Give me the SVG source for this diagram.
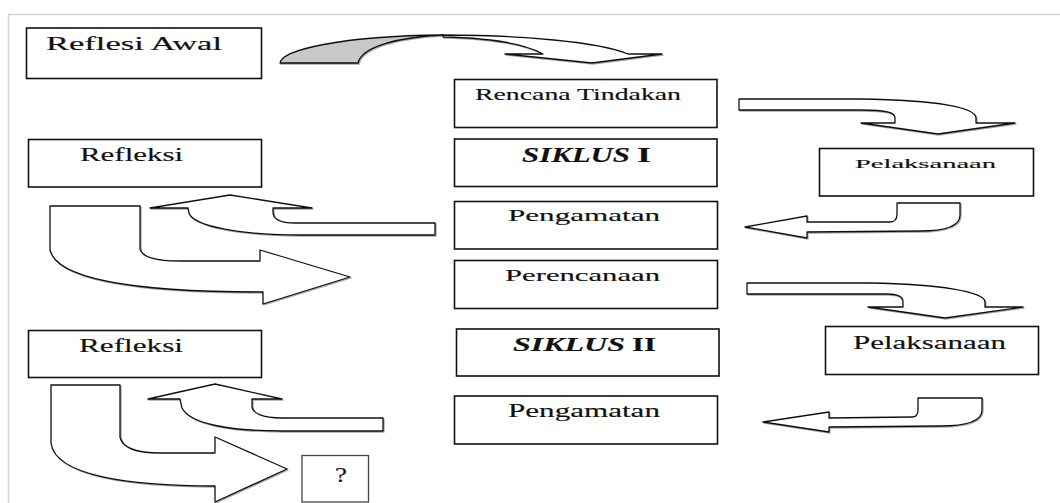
<svg xmlns="http://www.w3.org/2000/svg" width="1060" height="503" viewBox="0 0 1060 503">
  <style>
    .frame { stroke: #d4d4d4; stroke-width: 1.5; fill: none; }
    .box { fill: #ffffff; stroke: #111111; stroke-width: 1.6; }
    .qbox { fill: #ffffff; stroke: #444444; stroke-width: 1.3; }
    .arrow { fill: #ffffff; stroke: #111111; stroke-width: 1.3; stroke-linejoin: round; filter: url(#soft); }
    .shade { fill: #c8c8c8; stroke: #111111; stroke-width: 1.3; stroke-linejoin: round; filter: url(#soft); }
    .t { font-family: "Liberation Serif", "Times New Roman", serif; fill: #111111; stroke: #111111; stroke-width: 0.15; }
    .b { font-weight: bold; }
    .bi { font-weight: bold; font-style: italic; }
  </style>
  <defs>
    <filter id="soft" x="-5%" y="-5%" width="110%" height="120%">
      <feDropShadow dx="1" dy="1" stdDeviation="0.7" flood-color="#000000" flood-opacity="0.35"/>
    </filter>
  </defs>

  <rect x="0" y="0" width="1060" height="503" fill="#ffffff"/>
  <path class="frame" d="M8.5,503 L8.5,14.5 L1060,14.5"/>

  <g id="connectors">
    <!-- Reflesi Awal -> Rencana Tindakan -->
    <path class="shade" d="M280,63 C282,50 340,36 443,35 C400,37 362,46 358,63 Z"/>
    <path class="arrow" d="M443,35 C520,35 600,42 628,54 L662,54 L592,63 L505,54 L543,54 C525,44 490,38 443,37 Z"/>
    <!-- Rencana Tindakan -> Pelaksanaan I -->
    <path class="arrow" d="M739,99 L860,99 C940,100 976,108 976,118 L976,123 L1015,123 L938,134 L861,123 L895,123 L895,118 C895,113 889,110 860,110 L739,110 Z"/>
    <!-- Pelaksanaan I -> Pengamatan I -->
    <path class="arrow" d="M897,203 L960,203 L960,215 C960,226 945,231 920,231 L807,232 L807,238 L745,227 L807,216 L807,222 L890,222 C895,222 897,219 897,214 Z"/>
    <!-- Pengamatan I -> Refleksi I -->
    <path class="arrow" d="M435,223 L295,223 C281,223 273,219 273,212 L273,208 L312,208 L230,195 L150,208 L188,208 L189,213 C193,226 240,235 300,235 L435,235 Z"/>
    <!-- Refleksi I -> Perencanaan -->
    <path class="arrow" d="M50,206 L140,206 L140,249 C142,257 155,261 180,261 L260,261 L260,250 L350,277 L263,304 L263,292 C160,292 58,284 50,250 Z"/>
    <!-- Perencanaan -> Pelaksanaan II -->
    <path class="arrow" d="M747,283 L870,283 C940,284 985,292 985,302 L985,307 L1023,307 L945,318 L868,307 L903,307 L903,302 C903,297 897,294 887,294 L747,294 Z"/>
    <!-- Pelaksanaan II -> Pengamatan II -->
    <path class="arrow" d="M918,398 L982,398 L982,410 C982,421 966,426 940,426 L829,427 L829,432 L763,422 L829,412 L829,418 L912,417 C916,417 918,414 918,410 Z"/>
    <!-- Pengamatan II -> Refleksi II -->
    <path class="arrow" d="M383,418 L282,418 C262,418 252,413 252,406 L252,399 L282,399 L215,384 L148,399 L180,399 L182,408 C190,424 230,431 283,431 L383,431 Z"/>
    <!-- Refleksi II -> ? -->
    <path class="arrow" d="M51,385 L120,385 L120,437 C122,447 135,453 160,453 L215,453 L215,437 L287,469 L215,502 L215,486 C130,486 55,476 51,443 Z"/>
  </g>

  <g id="reflesi-awal">
    <rect class="box" x="26.5" y="28" width="235" height="50.5"/>
    <text class="t" x="46" y="50" font-size="19" textLength="176" lengthAdjust="spacingAndGlyphs">Reflesi Awal</text>
  </g>
  <g id="refleksi-1">
    <rect class="box" x="28.5" y="139.5" width="233" height="47.5"/>
    <text class="t" x="80" y="161" font-size="19.5" textLength="103" lengthAdjust="spacingAndGlyphs">Refleksi</text>
  </g>
  <g id="rencana-tindakan">
    <rect class="box" x="454.5" y="79.5" width="262.5" height="48"/>
    <text class="t" x="475" y="100" font-size="17.5" textLength="206" lengthAdjust="spacingAndGlyphs">Rencana  Tindakan</text>
  </g>
  <g id="siklus-1">
    <rect class="box" x="454.5" y="139" width="262.5" height="47.5"/>
    <text class="t bi" x="522" y="162" font-size="20" textLength="108" lengthAdjust="spacingAndGlyphs">SIKLUS</text>
    <text class="t b" x="637" y="162" font-size="20" textLength="14" lengthAdjust="spacingAndGlyphs">I</text>
  </g>
  <g id="pelaksanaan-1">
    <rect class="box" x="819.5" y="148.5" width="214" height="47.5"/>
    <text class="t" x="855" y="168" font-size="13.5" textLength="141" lengthAdjust="spacingAndGlyphs">Pelaksanaan</text>
  </g>
  <g id="pengamatan-1">
    <rect class="box" x="454.5" y="201.5" width="263" height="47.5"/>
    <text class="t" x="508" y="221" font-size="16.5" textLength="152" lengthAdjust="spacingAndGlyphs">Pengamatan</text>
  </g>
  <g id="perencanaan">
    <rect class="box" x="454.5" y="260.5" width="263" height="48"/>
    <text class="t" x="505" y="281" font-size="16.5" textLength="155" lengthAdjust="spacingAndGlyphs">Perencanaan</text>
  </g>
  <g id="siklus-2">
    <rect class="box" x="456.5" y="329" width="262.5" height="47"/>
    <text class="t bi" x="513" y="351" font-size="19" textLength="112" lengthAdjust="spacingAndGlyphs">SIKLUS</text>
    <text class="t b" x="632" y="351" font-size="19" textLength="24" lengthAdjust="spacingAndGlyphs">II</text>
  </g>
  <g id="pelaksanaan-2">
    <rect class="box" x="825.5" y="326.5" width="213" height="48"/>
    <text class="t" x="853" y="349" font-size="18.5" textLength="153" lengthAdjust="spacingAndGlyphs">Pelaksanaan</text>
  </g>
  <g id="pengamatan-2">
    <rect class="box" x="454.5" y="396" width="263" height="48"/>
    <text class="t" x="508" y="417" font-size="18" textLength="152" lengthAdjust="spacingAndGlyphs">Pengamatan</text>
  </g>
  <g id="refleksi-2">
    <rect class="box" x="28.5" y="330.5" width="233" height="47"/>
    <text class="t" x="79" y="352" font-size="19" textLength="104" lengthAdjust="spacingAndGlyphs">Refleksi</text>
  </g>
  <g id="question">
    <rect class="qbox" x="302" y="455.5" width="66.5" height="46.5"/>
    <text class="t" x="335" y="482" font-size="20" textLength="12" lengthAdjust="spacingAndGlyphs">?</text>
  </g>
</svg>
